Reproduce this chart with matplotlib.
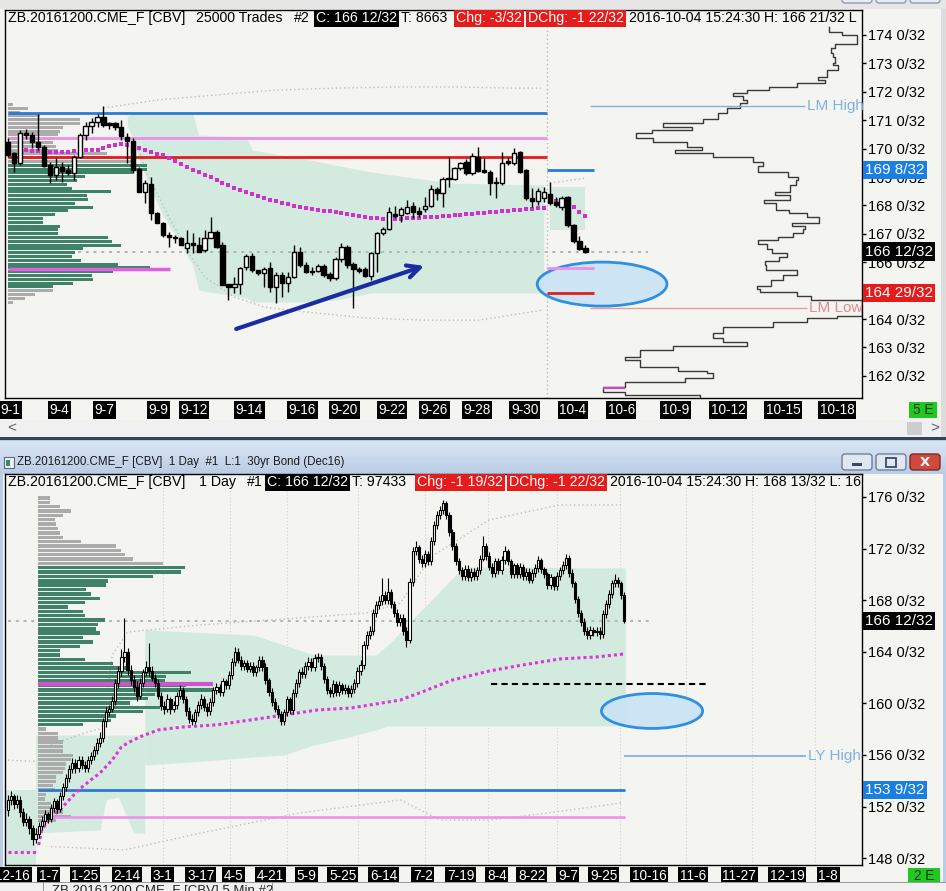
import numpy as np
import matplotlib
matplotlib.use("Agg")
import matplotlib.pyplot as plt
import matplotlib.transforms as mtransforms
from matplotlib.patches import Rectangle, Ellipse, FancyBboxPatch
from matplotlib.colors import LinearSegmentedColormap

# ---------------- top chart : ZB Dec16, 25000 trade bars ----------------
t_open = [170.23, 169.85, 169.49, 170.55, 170.48, 170.23, 170.06, 169.42, 169.07, 169.35,
          169.25, 169.14, 169.70, 170.48, 170.80, 170.94, 171.11, 170.90, 170.90, 170.76,
          170.41, 170.27, 169.28, 168.47, 168.75, 167.73, 167.38, 166.96, 166.89, 166.85,
          166.50, 166.68, 166.61, 166.43, 166.85, 167.06, 166.61, 165.23, 165.13, 165.23,
          165.83, 166.22, 165.73, 165.62, 165.80, 165.13, 165.55, 165.27, 165.48, 166.36,
          165.90, 165.69, 165.69, 165.87, 165.58, 165.44, 166.11, 166.54, 165.94, 165.76,
          165.76, 165.51, 166.32, 167.03, 167.17, 167.70, 167.66, 167.73, 167.98, 167.80,
          167.87, 167.98, 168.58, 168.44, 168.96, 168.93, 169.32, 169.53, 169.14, 169.70,
          169.25, 169.18, 168.82, 168.79, 169.56, 169.49, 169.88, 169.25, 168.26, 168.15,
          168.26, 168.40, 168.12, 167.94, 168.30, 167.31, 166.75, 166.50]
t_high = [170.37, 169.88, 170.65, 170.69, 170.58, 171.22, 170.13, 169.53, 169.67, 169.53,
          169.42, 169.77, 170.55, 170.94, 171.08, 171.22, 171.50, 170.94, 170.94, 171.01,
          170.55, 170.37, 169.35, 168.89, 169.00, 167.77, 167.42, 167.06, 166.96, 166.89,
          167.13, 167.03, 166.89, 167.13, 167.59, 167.13, 166.71, 165.23, 165.48, 165.83,
          166.29, 166.32, 165.73, 165.83, 166.01, 165.65, 165.65, 165.65, 166.61, 166.54,
          166.01, 165.83, 165.94, 165.94, 165.65, 166.18, 166.68, 166.61, 166.01, 165.83,
          165.83, 166.36, 167.06, 167.24, 167.94, 167.98, 167.94, 168.19, 168.12, 167.94,
          168.30, 168.72, 168.65, 169.00, 169.70, 169.35, 169.53, 169.63, 169.85, 170.06,
          169.67, 169.25, 169.00, 169.88, 169.70, 170.02, 169.92, 169.28, 168.61, 168.61,
          168.65, 168.82, 168.30, 168.33, 168.33, 167.34, 166.92, 166.61]
t_low = [169.70, 169.18, 169.42, 170.34, 170.02, 169.95, 169.35, 168.79, 168.89, 168.82,
         169.07, 168.89, 169.67, 170.30, 170.55, 170.76, 170.76, 170.69, 170.65, 170.30,
         169.49, 169.14, 168.47, 168.08, 167.49, 167.38, 166.89, 166.54, 166.68, 166.61,
         166.32, 166.32, 166.36, 166.36, 166.85, 166.50, 165.20, 164.67, 164.91, 164.88,
         165.73, 165.65, 165.55, 165.13, 164.95, 164.56, 164.77, 164.95, 165.44, 165.83,
         165.62, 165.55, 165.65, 165.48, 165.34, 165.37, 166.01, 165.80, 164.39, 165.62,
         165.48, 165.37, 165.65, 166.96, 167.13, 167.56, 167.42, 167.70, 167.56, 167.59,
         167.77, 167.94, 168.19, 167.94, 168.65, 168.89, 169.25, 169.07, 169.07, 169.18,
         169.14, 168.37, 168.26, 168.72, 169.42, 169.42, 169.14, 168.19, 167.94, 168.01,
         168.12, 168.01, 167.94, 167.84, 167.24, 166.68, 166.43, 166.32]
t_close = [169.77, 169.49, 170.55, 170.48, 170.23, 170.06, 169.39, 169.07, 169.35, 169.21,
           169.14, 169.70, 170.48, 170.80, 170.94, 171.11, 170.83, 170.83, 170.76, 170.44,
           170.27, 169.25, 168.47, 168.79, 167.73, 167.38, 166.96, 166.89, 166.85, 166.61,
           166.68, 166.61, 166.36, 166.85, 167.06, 166.54, 165.20, 165.13, 165.23, 165.80,
           166.22, 165.73, 165.62, 165.76, 165.13, 165.55, 165.27, 165.48, 166.36, 165.90,
           165.65, 165.65, 165.87, 165.55, 165.44, 166.11, 166.54, 165.90, 165.76, 165.69,
           165.51, 166.32, 167.03, 167.17, 167.77, 167.63, 167.87, 167.94, 167.77, 167.70,
           167.98, 168.58, 168.44, 168.93, 168.93, 169.32, 169.49, 169.14, 169.74, 169.21,
           169.18, 168.79, 168.79, 169.49, 169.49, 169.85, 169.18, 168.26, 168.15, 168.51,
           168.47, 168.08, 168.01, 168.26, 167.31, 166.75, 166.46, 166.375]
t_session_start = 91          # first bar of the 10-4 session

t_vwap_start = 3
t_vwap = [169.95, 169.92, 169.92, 169.88, 169.88, 169.88, 169.88, 169.88, 169.92, 169.92,
          169.95, 169.95, 169.95, 170.02, 170.09, 170.13, 170.16, 170.13, 170.09, 170.02,
          169.95, 169.88, 169.81, 169.77, 169.67, 169.56, 169.46, 169.35, 169.25, 169.18,
          169.07, 169.00, 168.89, 168.79, 168.72, 168.61, 168.54, 168.47, 168.40, 168.33,
          168.26, 168.19, 168.15, 168.08, 168.05, 167.98, 167.94, 167.91, 167.87, 167.84,
          167.80, 167.80, 167.77, 167.73, 167.70, 167.66, 167.63, 167.59, 167.56, 167.56,
          167.52, 167.52, 167.52, 167.52, 167.56, 167.56, 167.56, 167.59, 167.59, 167.59,
          167.63, 167.63, 167.66, 167.66, 167.70, 167.70, 167.73, 167.73, 167.77, 167.77,
          167.80, 167.80, 167.84, 167.84, 167.87, 167.87, 167.91, 167.91]
t_vwap_sess = [168.12, 168.15, 168.19, 168.12, 167.94, 167.77, 167.63]

t_band_idx = [20, 21, 22, 24, 26, 28, 30, 31, 32, 40, 41, 49, 55, 61, 67, 71, 74, 90]
t_band_hi = [171.15, 171.25, 171.25, 171.25, 171.25, 171.25, 171.25, 171.25, 170.48, 170.41,
             169.95, 169.67, 169.42, 169.18, 169.00, 168.89, 168.79, 168.72]
t_band_lo = [170.83, 170.30, 169.60, 168.54, 167.66, 166.96, 166.25, 165.90, 165.02, 164.74,
             164.60, 164.60, 164.67, 164.92, 164.92, 164.92, 164.92, 164.92]
t_sess_band_idx = [91, 97]
t_sess_band_hi = [168.65, 168.65]
t_sess_band_lo = [167.13, 167.13]
t_outer_hi_idx = [16, 25, 35, 45, 55, 65, 75, 85, 90]
t_outer_hi = [171.43, 171.71, 171.89, 172.06, 172.13, 172.17, 172.17, 172.13, 172.13]
t_outer_lo_idx = [22, 23, 27, 30, 33, 38, 43, 50, 60, 70, 79, 90]
t_outer_lo = [169.95, 169.25, 167.59, 166.43, 165.48, 164.77, 164.42, 164.25, 164.04, 163.96,
              163.96, 164.32]
t_sess_outer_idx = [91, 97]
t_sess_outer = [168.79, 168.96]

# left volume profile of the visible range (value area shaded green)
t_vp_top, t_vp_step = 171.55, 0.1337
t_vp_vol = [5, 20, 12, 32, 72, 72, 55, 52, 50, 47, 45, 48, 50, 99, 104, 125, 139, 139, 125, 77,
            69, 59, 64, 103, 79, 80, 67, 85, 60, 47, 35, 35, 52, 50, 50, 100, 104, 113, 75, 67,
            64, 73, 110, 142, 105, 84, 85, 65, 45, 45, 27, 17, 5]
t_va_lo, t_va_hi = 165.0, 169.45

# right composite profile (outline)
comp_edges = [174.28, 174.11, 174.00, 173.68, 173.54, 173.37, 173.23, 173.01, 172.94, 172.77,
              172.52, 172.42, 172.31, 172.17, 172.06, 171.96, 171.85, 171.71, 171.61, 171.43,
              171.25, 171.04, 170.90, 170.76, 170.65, 170.55, 170.37, 170.23, 170.06, 169.95,
              169.85, 169.70, 169.53, 169.39, 169.18, 169.00, 168.89, 168.72, 168.47, 168.37,
              168.19, 168.08, 167.84, 167.73, 167.59, 167.38, 167.27, 167.17, 167.03, 166.89,
              166.78, 166.64, 166.46, 166.32, 166.18, 166.04, 165.90, 165.73, 165.55, 165.37,
              165.16, 165.06, 164.95, 164.81, 164.67, 164.11, 164.04, 163.89, 163.72, 163.51,
              163.33, 163.19, 163.05, 162.91, 162.66, 162.56, 162.31, 162.17, 162.10, 161.92,
              161.78, 161.61, 161.43, 161.32, 161.22]
comp_len = [33, 20, 5, 27, 31, 29, 27, 29, 24, 35, 44, 37, 65, 93, 115, 129, 119, 115, 122, 135,
            144, 159, 199, 170, 210, 226, 209, 175, 160, 187, 149, 109, 99, 104, 74, 64, 66, 72, 87, 72,
            98, 86, 73, 55, 43, 70, 57, 59, 69, 84, 104, 95, 90, 75, 83, 97, 96, 65, 79, 91,
            105, 102, 65, 51, 0, 25, 55, 89, 139, 149, 139, 115, 189, 222, 237, 222, 184, 155, 149, 177,
            237, 259, 237, 162]
comp_poc = 161.57

top_tick_pos = [0.3, 8.6, 16.2, 25.2, 31.2, 40.5, 49.4, 56.5, 64.5, 71.6, 78.8, 86.8, 94.9,
                103.0, 112.1, 121.0, 130.2, 139.3]
top_tick_labels = ["9-1", "9-4", "9-7", "9-9", "9-12", "9-14", "9-16", "9-20", "9-22", "9-26",
                   "9-28", "9-30", "10-4", "10-6", "10-9", "10-12", "10-15", "10-18"]

t_blue, t_pink, t_red = 171.25, 170.37, 169.70            # prior levels
t_blue2, t_pink2, t_red2 = 169.25, 165.80, 164.91          # session levels
t_poc = 165.76
lm_high, lm_low = 171.50, 164.39

# ---------------- bottom chart : ZB Dec16, daily bars ----------------
d_open = [151.7, 152.5, 152.8, 152.2, 152.5, 151.6, 150.8, 151.0, 150.3, 149.5,
          149.9, 150.5, 150.9, 151.4, 151.0, 151.9, 152.4, 151.8, 152.8, 153.5,
          154.2, 154.9, 155.4, 155.0, 155.6, 155.2, 155.0, 155.6, 155.9, 156.4,
          156.9, 157.3, 158.6, 159.3, 159.6, 160.2, 161.6, 162.5, 163.6, 164.0,
          162.6, 161.8, 161.3, 160.6, 161.6, 162.4, 162.8, 162.5, 162.0, 161.6,
          160.6, 159.8, 159.6, 160.3, 159.6, 159.9, 160.6, 161.0, 160.3, 159.4,
          158.8, 158.6, 159.3, 159.9, 160.3, 159.7, 159.4, 160.1, 161.0, 161.3,
          160.9, 161.7, 161.4, 162.2, 163.2, 164.0, 163.4, 162.9, 163.1, 162.7,
          162.9, 162.4, 162.8, 163.4, 162.8, 161.8, 160.9, 160.1, 159.6, 159.2,
          158.6, 159.3, 160.3, 159.5, 160.8, 161.6, 162.4, 162.3, 162.9, 163.2,
          162.8, 163.5, 163.6, 162.9, 161.9, 161.0, 160.8, 161.5, 160.9, 161.4,
          161.0, 161.2, 160.8, 161.1, 161.6, 162.5, 163.0, 164.5, 165.3, 165.6,
          167.0, 167.6, 167.9, 168.4, 168.0, 168.6, 167.7, 167.0, 166.3, 166.6,
          165.6, 164.9, 169.4, 171.8, 172.1, 171.2, 170.9, 171.6, 171.0, 172.6,
          173.8, 174.6, 175.0, 175.5, 174.6, 173.3, 172.2, 171.0, 170.3, 169.9,
          170.4, 169.8, 170.2, 169.9, 170.3, 171.2, 172.2, 171.4, 170.6, 170.1,
          171.0, 170.3, 171.1, 171.8, 171.0, 170.0, 170.7, 170.0, 170.6, 169.9,
          170.2, 169.6, 170.1, 170.5, 171.1, 170.4, 170.0, 169.2, 169.8, 169.1,
          169.9, 170.3, 170.7, 171.3, 170.1, 169.3, 168.1, 167.0, 166.3, 165.6,
          165.3, 165.7, 165.5, 165.6, 165.4, 166.9, 167.7, 168.5, 169.3, 169.6,
          169.3, 168.4]
d_high = [152.9, 153.2, 153.0, 152.9, 152.8, 151.9, 151.5, 151.3, 150.6, 150.3,
          150.8, 151.3, 151.7, 151.6, 152.2, 152.7, 152.6, 153.1, 153.8, 154.5,
          155.2, 155.8, 155.7, 155.9, 155.9, 155.5, 155.9, 156.2, 156.7, 157.3,
          157.8, 158.9, 159.7, 159.9, 160.6, 161.9, 162.9, 164.2, 166.6, 164.3,
          163.0, 162.2, 161.7, 162.0, 162.7, 163.3, 164.7, 162.9, 162.3, 161.9,
          160.9, 160.2, 160.7, 160.5, 160.2, 160.9, 161.4, 161.3, 160.6, 159.7,
          159.2, 159.6, 160.2, 160.7, 160.6, 160.0, 160.4, 161.3, 161.6, 161.5,
          162.0, 161.9, 162.5, 163.5, 164.4, 164.3, 163.7, 163.4, 163.4, 163.2,
          163.2, 163.0, 163.7, 163.7, 163.1, 162.0, 161.2, 160.4, 159.9, 159.4,
          159.6, 160.6, 160.5, 161.1, 161.9, 162.7, 162.8, 163.2, 163.6, 163.5,
          163.8, 163.9, 163.8, 163.1, 162.1, 161.3, 161.8, 161.7, 161.7, 161.6,
          161.5, 161.4, 161.4, 161.9, 162.8, 163.4, 164.8, 165.6, 166.0, 167.3,
          167.9, 168.3, 169.7, 168.7, 169.7, 168.9, 167.9, 167.3, 166.9, 166.9,
          165.9, 169.7, 172.1, 172.6, 172.3, 171.5, 171.9, 171.8, 172.9, 174.1,
          174.9, 175.3, 175.8, 175.7, 174.8, 173.5, 172.4, 171.3, 170.6, 170.7,
          170.7, 170.5, 170.5, 170.6, 171.5, 173.0, 172.4, 171.7, 170.9, 171.3,
          171.3, 171.4, 172.2, 172.0, 171.2, 170.9, 170.9, 170.9, 170.8, 170.5,
          170.5, 170.4, 170.8, 171.4, 171.3, 170.6, 170.2, 170.0, 169.9, 170.2,
          170.6, 171.0, 171.6, 171.5, 170.4, 169.5, 168.3, 167.2, 166.6, 165.9,
          166.0, 165.9, 165.9, 165.9, 167.2, 168.0, 168.8, 169.6, 170.0, 169.8,
          169.5, 168.6]
d_low = [151.3, 152.1, 151.8, 151.9, 151.2, 150.5, 150.5, 149.9, 149.0, 149.2,
         149.6, 150.2, 150.6, 150.7, 150.8, 151.6, 151.5, 151.6, 152.5, 153.2,
         153.9, 154.6, 154.6, 154.7, 154.9, 154.7, 154.7, 155.3, 155.6, 156.1,
         156.6, 157.0, 158.2, 159.0, 159.3, 159.9, 161.2, 162.1, 163.2, 162.2,
         161.4, 160.9, 160.2, 160.3, 161.3, 162.1, 162.1, 161.7, 161.3, 160.3,
         159.5, 159.2, 159.3, 159.2, 159.3, 159.6, 160.3, 160.0, 159.0, 158.5,
         158.3, 158.4, 159.0, 159.6, 159.4, 159.0, 159.1, 159.8, 160.7, 160.6,
         160.6, 161.1, 161.1, 161.9, 162.9, 163.1, 162.6, 162.6, 162.4, 162.4,
         162.1, 162.1, 162.5, 162.5, 161.5, 160.6, 159.8, 159.3, 158.9, 158.3,
         158.3, 159.0, 159.2, 159.2, 160.5, 161.3, 162.0, 162.0, 162.6, 162.5,
         162.5, 163.2, 162.6, 161.6, 160.7, 160.5, 160.5, 160.6, 160.6, 160.7,
         160.7, 160.5, 160.5, 160.8, 161.3, 162.2, 162.7, 164.2, 165.0, 165.3,
         166.7, 167.3, 167.6, 167.7, 167.7, 167.4, 166.7, 166.0, 166.0, 165.3,
         164.4, 164.7, 169.1, 171.5, 170.9, 170.6, 170.6, 170.7, 170.7, 172.3,
         173.5, 174.3, 174.7, 174.3, 173.0, 171.9, 170.7, 170.0, 169.6, 169.6,
         169.5, 169.5, 169.6, 169.6, 170.0, 171.0, 171.1, 170.3, 169.8, 169.8,
         170.0, 170.0, 170.8, 170.7, 169.7, 169.7, 169.7, 169.7, 169.6, 169.6,
         169.3, 169.3, 169.8, 170.2, 170.1, 169.7, 168.9, 168.9, 168.8, 168.8,
         169.6, 170.0, 170.4, 169.8, 169.0, 167.8, 166.7, 166.0, 165.3, 165.0,
         165.0, 165.2, 165.2, 165.0, 165.1, 166.6, 167.4, 168.2, 169.0, 169.0,
         168.1, 166.2]
d_close = [152.5, 152.8, 152.2, 152.5, 151.6, 150.8, 151.0, 150.3, 149.5, 149.9,
           150.5, 150.9, 151.4, 151.0, 151.9, 152.4, 151.8, 152.8, 153.5, 154.2,
           154.9, 155.4, 155.0, 155.6, 155.2, 155.0, 155.6, 155.9, 156.4, 156.9,
           157.3, 158.6, 159.3, 159.6, 160.2, 161.6, 162.5, 163.6, 164.0, 162.6,
           161.8, 161.3, 160.6, 161.6, 162.4, 162.8, 162.5, 162.0, 161.6, 160.6,
           159.8, 159.6, 160.3, 159.6, 159.9, 160.6, 161.0, 160.3, 159.4, 158.8,
           158.6, 159.3, 159.9, 160.3, 159.7, 159.4, 160.1, 161.0, 161.3, 160.9,
           161.7, 161.4, 162.2, 163.2, 164.0, 163.4, 162.9, 163.1, 162.7, 162.9,
           162.4, 162.8, 163.4, 162.8, 161.8, 160.9, 160.1, 159.6, 159.2, 158.6,
           159.3, 160.3, 159.5, 160.8, 161.6, 162.4, 162.3, 162.9, 163.2, 162.8,
           163.5, 163.6, 162.9, 161.9, 161.0, 160.8, 161.5, 160.9, 161.4, 161.0,
           161.2, 160.8, 161.1, 161.6, 162.5, 163.0, 164.5, 165.3, 165.6, 167.0,
           167.6, 167.9, 168.4, 168.0, 168.6, 167.7, 167.0, 166.3, 166.6, 165.6,
           164.9, 169.4, 171.8, 172.1, 171.2, 170.9, 171.6, 171.0, 172.6, 173.8,
           174.6, 175.0, 175.5, 174.6, 173.3, 172.2, 171.0, 170.3, 169.9, 170.4,
           169.8, 170.2, 169.9, 170.3, 171.2, 172.2, 171.4, 170.6, 170.1, 171.0,
           170.3, 171.1, 171.8, 171.0, 170.0, 170.7, 170.0, 170.6, 169.9, 170.2,
           169.6, 170.1, 170.5, 171.1, 170.4, 170.0, 169.2, 169.8, 169.1, 169.9,
           170.3, 170.7, 171.3, 170.1, 169.3, 168.1, 167.0, 166.3, 165.6, 165.3,
           165.7, 165.5, 165.6, 165.4, 166.9, 167.7, 168.5, 169.3, 169.6, 169.3,
           168.4, 166.375]

d_vwap_prev_idx = [0, 9]
d_vwap_prev = [148.48, 148.48]
d_vwap_idx = [10, 11, 14, 17, 19, 23, 27, 30, 34, 37, 39, 43, 49, 57, 68, 79, 90, 101, 112,
              122, 128, 135, 145, 157, 168, 180, 192, 201]
d_vwap = [149.02, 150.19, 151.19, 151.74, 152.28, 153.29, 154.06, 154.60, 155.61, 156.62,
          156.93, 157.40, 157.94, 158.17, 158.33, 158.71, 159.10, 159.49, 159.64, 160.03,
          160.26, 160.88, 161.81, 162.51, 162.98, 163.44, 163.60, 163.83]

d_band_l_idx = [-1, 9]
d_band_l_hi = [153.29, 153.29]
d_band_l_lo = [147.4, 147.4]
d_band_m_idx = [9, 30, 32, 36, 41, 44.6]
d_band_m_hi = [157.55, 157.55, 157.55, 157.55, 157.55, 157.55]
d_band_m_lo = [149.95, 150.19, 152.51, 152.74, 149.95, 149.95]
d_band_r_idx = [44.6, 60, 80, 90, 100, 110, 120, 124, 135, 147, 150, 170, 190, 201.4]
d_band_r_hi = [165.69, 165.53, 165.30, 164.53, 163.75, 163.75, 163.75, 164.53, 167.24, 170.19,
               170.57, 170.57, 170.50, 170.50]
d_band_r_lo = [155.22, 155.46, 155.84, 156.00, 156.78, 157.32, 157.94, 158.25, 158.25, 158.25,
               158.25, 158.25, 158.25, 158.25]
d_outer_hi_idx = [14, 25, 31, 34, 39, 63, 95, 117, 128, 138, 157, 180, 200]
d_outer_hi = [156.78, 157.71, 158.09, 163.75, 165.53, 166.08, 166.62, 167.01, 167.78, 171.35,
              174.22, 175.38, 175.38]
d_outer_prev_idx = [0, 9]
d_outer_prev = [155.6, 155.5]
d_outer_lo_idx = [14, 38, 63, 95, 128, 141, 157, 176, 200]
d_outer_lo = [148.9, 148.64, 149.95, 151.50, 152.51, 150.96, 150.96, 151.50, 152.28]

d_vp_top, d_vp_step = 175.92, 0.338
d_vp_vol = [12, 12, 22, 33, 25, 17, 18, 20, 22, 25, 43, 78, 83, 87, 95, 125,
            147, 143, 115, 70, 68, 48, 53, 62, 47, 30, 45, 47, 67, 60, 58, 62, 45, 55, 42, 22,
            22, 47, 75, 88, 153, 128, 127, 148, 175, 117, 110, 92, 122, 105, 78, 73, 45,
            8, 20, 20, 25, 25, 25, 35, 33, 28, 27, 25, 18, 18, 15, 17, 8, 7, 13, 17, 25, 33, 18]
d_va_lo, d_va_hi = 158.3, 170.55
d_poc = 161.5
d_blue, d_pink = 153.28, 151.19
ly_high = 155.92
d_month_idx = [50.6, 72.4, 91.0, 114.2, 136.0, 156.6, 179.1, 199.7, 221.2, 242.7, 263.3]

bot_tick_pos = [-4.2, 10.1, 20.6, 34.3, 47.3, 58.4, 70.5, 81.2, 94.0, 104.7, 118.1, 132.1,
                143.2, 156.3, 166.4, 179.4, 189.9, 203.6, 219.2, 233.0, 248.6, 264.3]
bot_tick_labels = ["12-16", "1-7", "1-25", "2-14", "3-1", "3-17", "4-5", "4-21", "5-9", "5-25",
                   "6-14", "7-2", "7-19", "8-4", "8-22", "9-7", "9-25", "10-16", "11-6",
                   "11-27", "12-19", "1-8"]

# ---------------- styling / layout ----------------
W, H = 946, 891
plt.rcParams["font.family"] = ["Liberation Sans", "DejaVu Sans"]
FS = 10.5       # price axis
HFS = 10.2      # header line
DFS = 9.8       # date boxes

BG = "#f4f5f0"
BAND = "#d3ebdf"
VP_GREEN = "#3e8268"
VP_GRAY = "#ababab"
BLUE = "#2a7bd2"
RED = "#e41c1c"
PINK = "#ec8fec"
MAG = "#d22fd2"

fig = plt.figure(figsize=(W / 100, H / 100), dpi=100, facecolor="#f0f0f0")
PX = mtransforms.Affine2D().scale(1 / W, -1 / H).translate(0, 1) + fig.transFigure


def rect(x0, y0, x1, y1, z=-5, **kw):
    fig.add_artist(Rectangle((x0, y0), x1 - x0, y1 - y0, transform=PX, zorder=z, **kw))


def ftext(x, y, s, **kw):
    fig.text(x, y, s, transform=PX, **kw)


# window chrome
rect(0, 0, W, 10, fc="#e6e6e6", lw=0)
for bx in (842, 876, 910):
    fig.add_artist(FancyBboxPatch((bx, -12), 30, 15, boxstyle="round,pad=0,rounding_size=3",
                                  transform=PX, fc="#e9edf3", ec="#8f9bb0", lw=1, zorder=2))
rect(0, 9, 941, 420, fc=BG, lw=0)
rect(941, 9, W, 437, fc="#dcdcdc", lw=0)
rect(0, 420, 941, 437, fc="#f0f0f0", lw=0)
rect(907, 422, 922, 435, fc="#cdcdcd", lw=0, z=1)
ftext(7, 428, "<", fontsize=11, color="#606060", va="center")
ftext(930, 428, ">", fontsize=11, color="#606060", va="center")
rect(0, 437, W, 440, fc="#34425c", lw=0)
rect(0, 440, W, 891, fc="#b9cde6", lw=0, z=-6)
rect(3, 474, 943, 883, fc=BG, lw=0)

tb = fig.add_axes([0, 1 - 474 / H, 1, 33 / H], zorder=-1)
tb.imshow(np.linspace(0, 1, 40)[:, None], aspect="auto", extent=[0, 1, 0, 1],
          cmap=LinearSegmentedColormap.from_list("tb", ["#dae5f3", "#b9cde6"]))
tb.set_axis_off()
rect(4, 457, 14, 468, z=2, fc="#eef2f7", ec="#5a6a80", lw=0.8)
rect(6, 460, 10, 466, z=3, fc="#2f8f5f", lw=0)
ftext(17, 462.5, "ZB.20161200.CME_F [CBV]  1 Day  #1  L:1  30yr Bond (Dec16)", fontsize=8.3,
      color="#1a1a1a", va="center", zorder=3)
for bx, fc, ec in ((842, "#dfe7f2", "#6e7f9c"), (876, "#dfe7f2", "#6e7f9c"), (910, "#cf4a3c", "#7c2a22")):
    fig.add_artist(FancyBboxPatch((bx, 454), 30, 16, boxstyle="round,pad=0,rounding_size=3",
                                  transform=PX, fc=fc, ec=ec, lw=1, zorder=2))
rect(852, 463, 862, 466, z=3, fc="#3a4a66", lw=0)
rect(886, 457.5, 896, 466.5, z=3, fc="none", ec="#3a4a66", lw=1.3)
ftext(925, 462.5, "X", fontsize=9.5, fontweight="bold", color="white", ha="center", va="center",
      family="DejaVu Sans", zorder=3)

# bottom tab strip
rect(0, 882, W, H, z=6, fc="#f0f0f0", lw=0)
rect(0, 882, W, 883, z=7, fc="#9a9a9a", lw=0)
rect(43, 883, 44, H, z=7, fc="#9a9a9a", lw=0)
rect(272, 883, 273, H, z=7, fc="#9a9a9a", lw=0)
ftext(52, 885, "ZB.20161200.CME_F [CBV] 5 Min #2", fontsize=9.5, va="top", zorder=8, color="#222222")


def add_chart(x0, y0, x1, y1):
    ax = fig.add_axes([x0 / W, 1 - y1 / H, (x1 - x0) / W, (y1 - y0) / H])
    ax.set_facecolor(BG)
    for s in ax.spines.values():
        s.set_color("black")
        s.set_linewidth(1)
    ax.set_xticks([])
    ax.yaxis.tick_right()
    ax.tick_params(axis="y", length=3, width=1, pad=1, labelsize=FS, colors="black")
    return ax


def candles(ax, o, h, l, c, width, lw, min_body):
    o, h, l, c = (np.asarray(v, float) for v in (o, h, l, c))
    x = np.arange(len(o))
    ax.vlines(x, l, h, colors="black", lw=lw, zorder=5)
    up = c >= o
    bot = np.minimum(o, c)
    hgt = np.maximum(np.abs(c - o), min_body)
    ax.bar(x[up], hgt[up], width, bot[up], facecolor="white", edgecolor="black", lw=lw, zorder=6)
    ax.bar(x[~up], hgt[~up], width, bot[~up], facecolor="black", edgecolor="black", lw=lw, zorder=6)


def profile(ax, top, step, vols, va_lo, va_hi, left, scale):
    levels = top - step * np.arange(len(vols))
    cols = [VP_GREEN if va_lo <= p <= va_hi else VP_GRAY for p in levels]
    ax.barh(levels, np.asarray(vols) * scale, height=step * 0.78, left=left, color=cols,
            lw=0, zorder=3)


def price_labels(ax, ticks):
    ax.set_yticks(ticks)
    ax.set_yticklabels([f"{t} 0/32" for t in ticks])


def flag(ax, price, s, fc):
    tr = mtransforms.blended_transform_factory(PX, ax.transData)
    ax.text(865, price, s, transform=tr, ha="left", va="center", fontsize=FS + 0.5, color="white",
            bbox=dict(boxstyle="square,pad=0.14", fc=fc, ec="none"), clip_on=False, zorder=20)


def date_labels(ax, pos, labels, ypx, ha):
    tr = mtransforms.blended_transform_factory(ax.transData, PX)
    for p, s in zip(pos, labels):
        ax.text(p, ypx, s, transform=tr, ha=ha, va="center", fontsize=DFS, color="white",
                bbox=dict(boxstyle="square,pad=0.12", fc="black", ec="none"), clip_on=False)


def header(ax, parts, ypx):
    for x, s, fc in parts:
        kw = {}
        col = "black"
        if fc:
            kw["bbox"] = dict(boxstyle="square,pad=0.14", fc=fc, ec="none")
            col = "white"
        ax.text(x, ypx, s, transform=PX, ha="left", va="center", fontsize=HFS, color=col,
                clip_on=True, zorder=30, **kw)


# ================= top chart =================
ax1 = add_chart(5, 10, 862, 398)
ax1.set_xlim(-0.55, 143.48)
ax1.set_ylim(161.22, 174.88)
price_labels(ax1, list(range(162, 175)))

ax1.fill_between(t_band_idx, t_band_lo, t_band_hi, color=BAND, lw=0, zorder=1)
ax1.fill_between(t_sess_band_idx, t_sess_band_lo, t_sess_band_hi, color=BAND, lw=0, zorder=1)
dots = dict(color="#bdbdbd", lw=1, ls=(0, (1, 2)), zorder=2)
ax1.plot(t_outer_hi_idx, t_outer_hi, **dots)
ax1.plot(t_outer_lo_idx, t_outer_lo, **dots)
ax1.plot(t_sess_outer_idx, t_sess_outer, **dots)
ax1.axvline(t_session_start - 0.5, color="#b8b8b8", lw=1, ls=(0, (1, 2)), zorder=2)

profile(ax1, t_vp_top, t_vp_step, t_vp_vol, t_va_lo, t_va_hi, -0.05, 1 / 5.95)

# composite profile outline on the right
xs, ys = [], []
for k, ln in enumerate(comp_len):
    xr = 143.48 - ln / 5.95
    xs += [xr, xr]
    ys += [comp_edges[k], comp_edges[k + 1]]
ax1.plot(xs, ys, color="#3a3a3a", lw=1, zorder=3)
ax1.hlines(comp_poc, 143.48 - 259 / 5.95, 143.48 - 237 / 5.95, color="#cc44cc", lw=1.6, zorder=3)

ell = Ellipse((99.8, 165.23), 21.8, 1.55, fc=(0.79, 0.89, 0.96, 0.92), ec="#2f8fe2", lw=2, zorder=3.5)
ax1.add_patch(ell)

s0 = t_session_start - 0.5
ax1.hlines([t_blue], -0.05, s0, color=BLUE, lw=2, zorder=4)
ax1.hlines([t_pink], -0.05, s0, color=PINK, lw=2, zorder=4)
ax1.hlines([t_red], -0.05, s0, color=RED, lw=2, zorder=4)
ax1.hlines([t_poc], -0.05, 27.2, color="#e060e0", lw=2.5, zorder=4)
ax1.hlines([t_blue2], s0, s0 + 7.9, color=BLUE, lw=2, zorder=4)
ax1.hlines([t_pink2], s0, s0 + 7.9, color=PINK, lw=2, zorder=4)
ax1.hlines([t_red2], s0, s0 + 7.9, color=RED, lw=2, zorder=4)
ax1.plot([0, 107.5], [t_close[-1]] * 2, color="#b5b5b5", lw=1.4, ls=(0, (1.5, 2.5)), zorder=2)

ax1.hlines(lm_high, 97.7, 133.9, color="#7fb2e2", lw=1, zorder=4)
ax1.text(134.2, lm_high, "LM High", color="#7fb2e2", fontsize=FS + 0.5, va="center", zorder=8)
ax1.hlines(lm_low, 97.7, 134.2, color="#e89a9a", lw=1, zorder=4)
ax1.text(134.5, lm_low, "LM Low", color="#e28a8a", fontsize=FS + 0.5, va="center", zorder=8)

vx = np.arange(t_vwap_start, t_vwap_start + len(t_vwap))
ax1.plot(vx, t_vwap, ls="none", marker="s", ms=2.6, color=MAG, mew=0, zorder=4.5)
vx2 = np.arange(t_session_start, t_session_start + len(t_vwap_sess))
ax1.plot(vx2, t_vwap_sess, ls="none", marker="s", ms=2.6, color=MAG, mew=0, zorder=4.5)

candles(ax1, t_open, t_high, t_low, t_close, 0.72, 1.0, 0.025)

ax1.annotate("", xy=(69.9, 165.87), xytext=(38.3, 163.65),
             arrowprops=dict(arrowstyle="->,head_length=0.9,head_width=0.45", lw=3,
                             color="#1b2ca3", shrinkA=0, shrinkB=0), zorder=9)

flag(ax1, t_blue2, "169 8/32", "#1a7fe0")
flag(ax1, t_close[-1], "166 12/32", "black")
flag(ax1, t_red2, "164 29/32", "#e41c1c")

date_labels(ax1, top_tick_pos, top_tick_labels, 410, "center")
rect(909, 402, 937, 418, z=3, fc="#22c722", lw=0)
ftext(923, 410, "5 E", fontsize=DFS, ha="center", va="center", color="#0a3a0a", zorder=4)

header(ax1, [(8, "ZB.20161200.CME_F [CBV]", None), (196, "25000 Trades", None), (294, "#2", None),
             (316, "C: 166 12/32", "black"), (401, "T: 8663", None), (456, "Chg: -3/32", RED),
             (528, "DChg: -1 22/32", RED), (629, "2016-10-04 15:24:30 H: 166 21/32 L", None)], 18)

# ================= bottom chart =================
ax2 = add_chart(5, 474, 862, 865)
ax2.set_xlim(-0.98, 278.6)
ax2.set_ylim(147.47, 177.78)
price_labels(ax2, list(range(148, 177, 4)))

for gx in d_month_idx:
    ax2.axvline(gx, color="#d2d2d2", lw=0.8, ls=(0, (1, 2)), zorder=0.5)
ax2.fill_between(d_band_l_idx, d_band_l_lo, d_band_l_hi, color=BAND, lw=0, zorder=1)
ax2.fill_between(d_band_m_idx, d_band_m_lo, d_band_m_hi, color=BAND, lw=0, zorder=1)
ax2.fill_between(d_band_r_idx, d_band_r_lo, d_band_r_hi, color=BAND, lw=0, zorder=1)
ax2.plot(d_outer_hi_idx, d_outer_hi, **dots)
ax2.plot(d_outer_prev_idx, d_outer_prev, **dots)
ax2.plot(d_outer_lo_idx, d_outer_lo, **dots)

profile(ax2, d_vp_top, d_vp_step, d_vp_vol, d_va_lo, d_va_hi, 9.79, 1 / 3.065)

ax2.add_patch(Ellipse((210.1, 159.41), 33.0, 2.71, fc=(0.79, 0.89, 0.96, 0.9), ec="#2f8fe2",
                      lw=2, zorder=3.5))
ax2.hlines(d_poc, 9.79, 66.9, color="#cf55cf", lw=3, zorder=4)
ax2.hlines(d_poc, 157.6, 228.4, color="black", lw=1.5, ls=(0, (3, 2)), zorder=4)
ax2.hlines(d_blue, 9.79, 201.3, color=BLUE, lw=2, zorder=4)
ax2.hlines(d_pink, 12.7, 201.3, color=PINK, lw=1.8, zorder=4)
ax2.plot([0, 210], [d_close[-1]] * 2, color="#b5b5b5", lw=1.4, ls=(0, (1.5, 2.5)), zorder=2)
ax2.hlines(ly_high, 201, 260.4, color="#7fb2e2", lw=1.3, zorder=4)
ax2.text(260.9, ly_high, "LY High", color="#7fb2e2", fontsize=FS + 0.5, va="center", zorder=8)

ax2.plot(d_vwap_prev_idx, d_vwap_prev, color="#dd35dd", lw=2.2, ls=(0, (1, 1)), zorder=4.5)
ax2.plot(d_vwap_idx, d_vwap, color="#dd35dd", lw=2.2, ls=(0, (1, 1)), zorder=4.5)

candles(ax2, d_open, d_high, d_low, d_close, 0.72, 0.8, 0.04)

flag(ax2, d_close[-1], "166 12/32", "black")
flag(ax2, d_blue, "153 9/32", "#1a7fe0")

date_labels(ax2, bot_tick_pos, bot_tick_labels, 876, "left")
rect(908, 868, 940, 884, z=3, fc="#22c722", lw=0)
ftext(924, 876, "2 E", fontsize=DFS, ha="center", va="center", color="#0a3a0a", zorder=4)

header(ax2, [(8, "ZB.20161200.CME_F [CBV]", None), (199, "1 Day", None), (247, "#1", None),
             (267, "C: 166 12/32", "black"), (352, "T: 97433", None), (417, "Chg: -1 19/32", RED),
             (509, "DChg: -1 22/32", RED), (610, "2016-10-04 15:24:30 H: 168 13/32 L: 16", None)], 482)

fig.savefig("out.png", dpi=100, facecolor=fig.get_facecolor())
